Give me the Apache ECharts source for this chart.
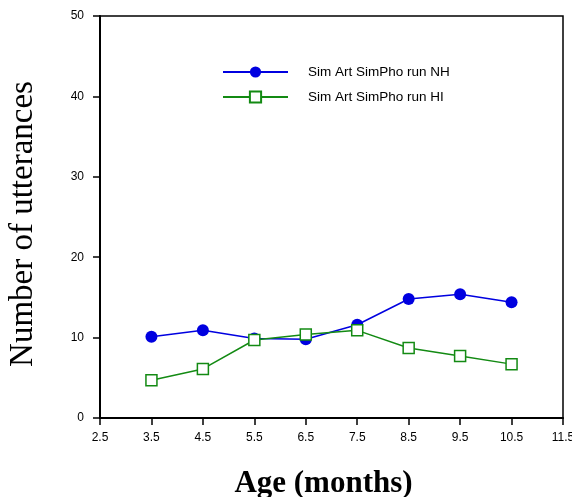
<!DOCTYPE html>
<html>
<head>
<meta charset="utf-8">
<script src="https://cdn.jsdelivr.net/npm/echarts@6/dist/echarts.min.js"></script>
<style>
  html, body { margin: 0; padding: 0; background: #fff; }
  #chart { width: 572px; height: 497px; }
</style>
</head>
<body>
<div id="chart"></div>
<script>
// Age in months at each recording session
const ages = [3.5, 4.5, 5.5, 6.5, 7.5, 8.5, 9.5, 10.5];
// Number of utterances per group
const nhCounts = [10.1, 10.9, 9.9, 9.8, 11.6, 14.8, 15.4, 14.4];
const hiCounts = [4.7, 6.1, 9.7, 10.4, 10.9, 8.7, 7.7, 6.7];
const seriesNames = ['Sim Art SimPho run NH', 'Sim Art SimPho run HI'];

const pairs = (xs, ys) => xs.map((x, i) => [x, ys[i]]);

const chart = echarts.init(document.getElementById('chart'), null, { renderer: 'canvas' });
chart.setOption({
  animation: false,
  backgroundColor: '#ffffff',
  grid: {
    left: 100, right: 9, top: 16, bottom: 79,
    outerBoundsMode: 'none',
    show: true, borderColor: '#000', borderWidth: 1.5, backgroundColor: 'transparent'
  },
  legend: {
    orient: 'vertical',
    left: 217, top: 60,
    itemWidth: 65, itemHeight: 14, itemGap: 11,
    textStyle: { fontFamily: 'Liberation Sans', fontSize: 13.5, color: '#000', padding: [0, 0, 0, 15] },
    data: seriesNames
  },
  xAxis: {
    type: 'value',
    min: 2.5, max: 11.5, interval: 1,
    splitLine: { show: false },
    axisLine: { lineStyle: { color: '#000', width: 2 } },
    axisTick: { inside: false, length: 7, lineStyle: { color: '#000', width: 1.5 } },
    axisLabel: {
      margin: 14, fontFamily: 'Liberation Sans', fontSize: 12, color: '#000',
      formatter: v => v.toFixed(1)
    },
    name: 'Age (months)',
    nameLocation: 'middle',
    nameGap: 50,
    nameTextStyle: {
      fontFamily: 'Liberation Serif', fontSize: 31, fontWeight: 'bold', color: '#000',
      padding: [0, 16, 0, 0]
    }
  },
  yAxis: {
    type: 'value',
    min: 0, max: 50, interval: 10,
    splitLine: { show: false },
    axisLine: { show: true, lineStyle: { color: '#000', width: 2 } },
    axisTick: { show: true, inside: false, length: 7, lineStyle: { color: '#000', width: 1.5 } },
    axisLabel: { margin: 16, fontFamily: 'Liberation Sans', fontSize: 12, color: '#000' },
    name: 'Number of utterances',
    nameLocation: 'middle',
    nameGap: 60,
    nameTextStyle: {
      fontFamily: 'Liberation Serif', fontSize: 33, color: '#000',
      padding: [0, 14, 0, 0]
    }
  },
  series: [
    {
      name: seriesNames[0],
      type: 'line',
      data: pairs(ages, nhCounts),
      symbol: 'circle', symbolSize: 12,
      lineStyle: { color: '#0000e0', width: 1.5 },
      itemStyle: { color: '#0000e0', borderColor: '#0000e0', borderWidth: 0 }
    },
    {
      name: seriesNames[1],
      type: 'line',
      data: pairs(ages, hiCounts),
      symbol: 'rect', symbolSize: 11,
      lineStyle: { color: '#138a13', width: 1.5 },
      itemStyle: { color: '#ffffff', borderColor: '#138a13', borderWidth: 1.5 }
    }
  ]
});
</script>
</body>
</html>
